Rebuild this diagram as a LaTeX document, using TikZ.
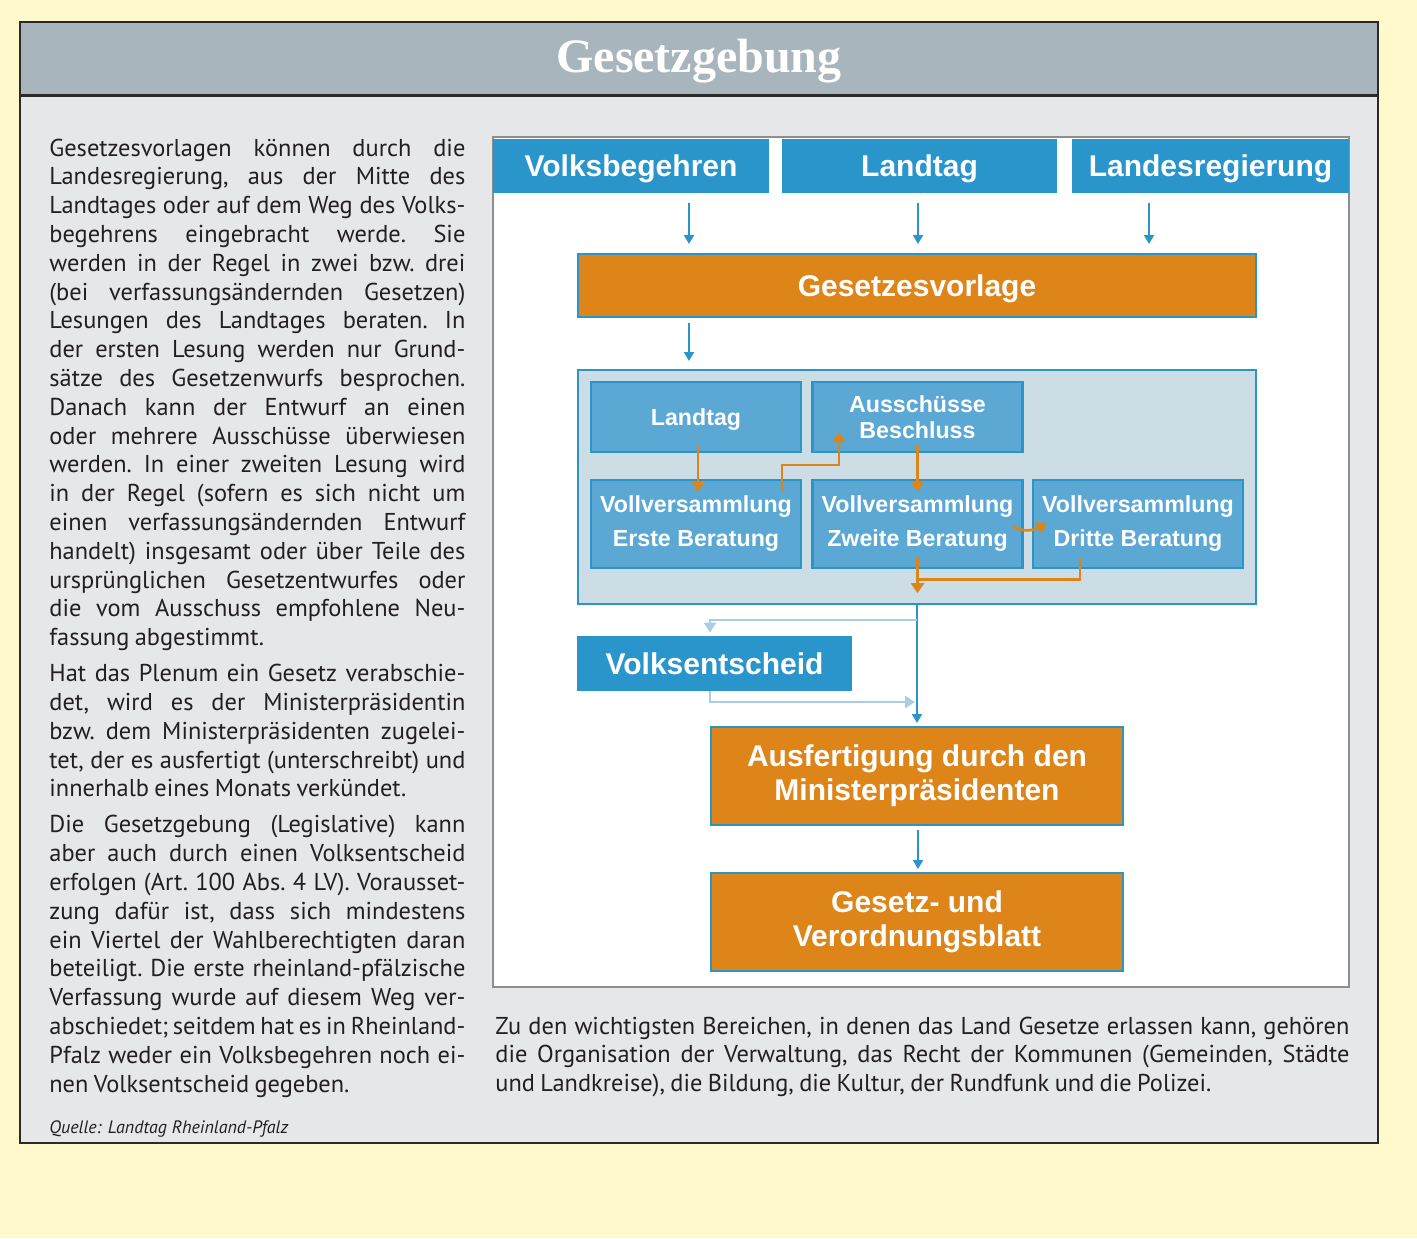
\documentclass[tikz,border=0pt]{standalone}
\usepackage{fontspec}
\setmainfont{PT Sans}
\newfontfamily\headfont{Liberation Sans}
\newfontfamily\titlefont{Liberation Serif}
\usepackage{xcolor}
\usetikzlibrary{arrows.meta, positioning, calc}

\definecolor{pagebg}{HTML}{FFF9CC}
\definecolor{panelgrey}{HTML}{E6E7E9}
\definecolor{titlegrey}{HTML}{A8B5BD}
\definecolor{framedark}{HTML}{2A2A2A}
\definecolor{srcblue}{HTML}{2A95CB}
\definecolor{stageblue}{HTML}{5BA8D5}
\definecolor{roundbg}{HTML}{CCDDE6}
\definecolor{laworange}{HTML}{DD8519}
\definecolor{paleblue}{HTML}{A9CDE2}
\definecolor{chartframe}{HTML}{8E8E8E}
\definecolor{bodygrey}{HTML}{231F20}

\newcommand{\bodyspacing}{\frenchspacing\spaceskip=0.22em plus 0.5em minus 0.1em\relax}

\tikzset{
    srcbox/.style={
        rectangle,
        fill=srcblue,
        text=white,
        minimum height=27pt,
        inner sep=0pt,
        text depth=0pt,
        font=\headfont\bfseries\fontsize{15}{18}\selectfont
    },
    lawbox/.style={
        rectangle,
        draw=srcblue,
        line width=1pt,
        fill=laworange,
        text=white,
        align=center,
        inner sep=0pt,
        font=\headfont\bfseries\fontsize{15}{17}\selectfont
    },
    stagebox/.style={
        rectangle,
        draw=srcblue,
        line width=1.2pt,
        fill=stageblue,
        text=white,
        minimum width=105pt,
        align=center,
        inner sep=0pt,
        font=\headfont\bfseries\fontsize{11.6}{17}\selectfont
    },
    roundbox/.style={
        rectangle,
        draw=srcblue,
        line width=1pt,
        fill=roundbg,
        minimum width=339pt,
        minimum height=117pt
    },
    bodytext/.style={
        anchor=base west,
        text=bodygrey,
        align=justify,
        inner sep=0pt,
        font=\fontsize{12.2}{14.4}\selectfont\bodyspacing
    },
    bline/.style={
        draw=srcblue,
        line width=1pt,
        -{Triangle[width=5pt,length=4.5pt]}
    },
    oline/.style={
        draw=laworange,
        line width=1.3pt,
        -{Triangle[width=6.5pt,length=5pt]}
    },
    lline/.style={
        draw=paleblue,
        line width=1.3pt,
        -{Triangle[width=6pt,length=5pt]}
    }
}

\begin{document}
\begin{tikzpicture}[x=0.5pt, y=-0.5pt]
\useasboundingbox (0,0) rectangle (1417,1238);
\fill[pagebg] (0,0) rectangle (1417,1238);

% Frame and title bar
\fill[panelgrey] (20,22) rectangle (1378,1143);
\fill[titlegrey] (20,22) rectangle (1378,95);
\draw[framedark, line width=1.5pt] (20,95) -- (1378,95);
\draw[framedark, line width=1.2pt] (20,22) rectangle (1378,1143);
\node[anchor=base, text=white, font=\titlefont\bfseries\fontsize{24}{26}\selectfont] (title) at (699,72) {Gesetzgebung};

% Left side - text
\node[bodytext, text width=208pt] (lefttext) at (49,156) {\setlength{\parskip}{3.6pt}\setlength{\parindent}{0pt}%
Gesetzesvorlagen können durch die\linebreak
Landesregierung, aus der Mitte des\linebreak
Landtages oder auf dem Weg des Volks-\linebreak
begehrens eingebracht werde. Sie\linebreak
werden in der Regel in zwei bzw. drei\linebreak
(bei verfassungsändernden Gesetzen)\linebreak
Lesungen des Landtages beraten. In\linebreak
der ersten Lesung werden nur Grund-\linebreak
sätze des Gesetzenwurfs besprochen.\linebreak
Danach kann der Entwurf an einen\linebreak
oder mehrere Ausschüsse überwiesen\linebreak
werden. In einer zweiten Lesung wird\linebreak
in der Regel (sofern es sich nicht um\linebreak
einen verfassungsändernden Entwurf\linebreak
handelt) insgesamt oder über Teile des\linebreak
ursprünglichen Gesetzentwurfes oder\linebreak
die vom Ausschuss empfohlene Neu-\linebreak
fassung abgestimmt.

Hat das Plenum ein Gesetz verabschie-\linebreak
det, wird es der Ministerpräsidentin\linebreak
bzw. dem Ministerpräsidenten zugelei-\linebreak
tet, der es ausfertigt (unterschreibt) und\linebreak
innerhalb eines Monats verkündet.

Die Gesetzgebung (Legislative) kann\linebreak
aber auch durch einen Volksentscheid\linebreak
erfolgen (Art. 100 Abs. 4 LV). Vorausset-\linebreak
zung dafür ist, dass sich mindestens\linebreak
ein Viertel der Wahlberechtigten daran\linebreak
beteiligt. Die erste rheinland-pfälzische\linebreak
Verfassung wurde auf diesem Weg ver-\linebreak
abschiedet; seitdem hat es in Rheinland-\linebreak
Pfalz weder ein Volksbegehren noch ei-\linebreak
nen Volksentscheid gegeben.};

\node[anchor=base west, text=bodygrey, inner sep=0pt, font=\itshape\fontsize{9}{11}\selectfont] (source) at (49,1133) {Quelle: Landtag Rheinland-Pfalz};

% Right side - chart
\node[rectangle, draw=chartframe, line width=0.7pt, fill=white, minimum width=428pt, minimum height=425pt] (chart) at (921,562) {};

\node[srcbox, minimum width=138pt] (vb) at (631,166) {Volksbegehren};
\node[srcbox, minimum width=137.5pt] (lt) at (919.5,166) {Landtag};
\node[srcbox, minimum width=138.5pt] (lr) at (1210.5,166) {Landesregierung};

\node[lawbox, minimum width=339pt, minimum height=31.5pt, text depth=0pt] (gv) at (917,285.5) {Gesetzesvorlage};

\node[roundbox] (rounds) at (917,487) {};
\node[stagebox, minimum height=35pt, text depth=0pt] (plenum) at (696,417) {Landtag};
\node[stagebox, minimum height=35pt, font=\headfont\bfseries\fontsize{11.6}{13}\selectfont] (aus) at (917.5,417) {Ausschüsse\\Beschluss};
\node[stagebox, minimum height=44pt] (erste) at (696,524) {Vollversammlung\\Erste Beratung};
\node[stagebox, minimum height=44pt] (zweite) at (917.5,524) {Vollversammlung\\Zweite Beratung};
\node[stagebox, minimum height=44pt] (dritte) at (1138,524) {Vollversammlung\\Dritte Beratung};

\node[srcbox, minimum width=137.5pt, minimum height=27.5pt] (vs) at (714.5,663.5) {Volksentscheid};

\node[lawbox, minimum width=206pt, minimum height=49pt] (ausf) at (917,776) {Ausfertigung durch den\\Ministerpräsidenten};
\node[lawbox, minimum width=206pt, minimum height=49pt] (blatt) at (917,922) {Gesetz- und\\Verordnungsblatt};

\node[bodytext, text width=427pt] (bottomtext) at (495,1034) {Zu den wichtigsten Bereichen, in denen das Land Gesetze erlassen kann, gehören\linebreak
die Organisation der Verwaltung, das Recht der Kommunen (Gemeinden, Städte\linebreak
und Landkreise), die Bildung, die Kultur, der Rundfunk und die Polizei.};

% Connections - sources
\draw[bline] ($(vb.south)+(58,10)$) -- ($(vb.south |- gv.north)+(58,-9)$);
\draw[bline] ($(lt.south)+(-1.5,10)$) -- ($(lt.south |- gv.north)+(-1.5,-9)$);
\draw[bline] ($(lr.south)+(-61.5,10)$) -- ($(lr.south |- gv.north)+(-61.5,-9)$);
\draw[bline] ($(gv.south)+(-228,5)$) -- ($(rounds.north)+(-228,-8)$);

% Connections - readings
\draw[oline] ($(plenum.south)+(2,-7)$) -- ($(erste.north)+(2,13)$);
\draw[oline] ($(erste.north)+(86,13)$) -- ++(0,-27) -| ($(aus.south)+(-78.5,-21)$);
\draw[oline] ($(aus.south)+(0,-7)$) -- ($(zweite.north)+(0,13)$);
\draw[oline] ($(zweite.east)+(-11,2)$) .. controls ($(zweite.east)+(-3,8)$) and ($(dritte.west)+(1,7)$) .. ($(dritte.west)+(15,-1)$);
\draw[oline] ($(zweite.south)+(0,-12)$) -- ($(zweite.south)+(0,24)$);
\draw[draw=laworange, line width=1.3pt] ($(dritte.south)+(-58,-12)$) |- ($(zweite.south)+(0,10)$);

% Connections - result
\coordinate (branch) at ($(rounds.south)+(0,15)$);
\draw[bline] (rounds.south) -- ($(ausf.north)+(0,-3)$);
\draw[lline] (branch) -| ($(ausf.west |- vs.north)+(0,-3)$);
\draw[lline] (ausf.west |- vs.south) |- ($(ausf.north)+(-2,-24)$);
\draw[bline] ($(ausf.south)+(1,4)$) -- ($(blatt.north)+(1,-3)$);

\end{tikzpicture}
\end{document}
